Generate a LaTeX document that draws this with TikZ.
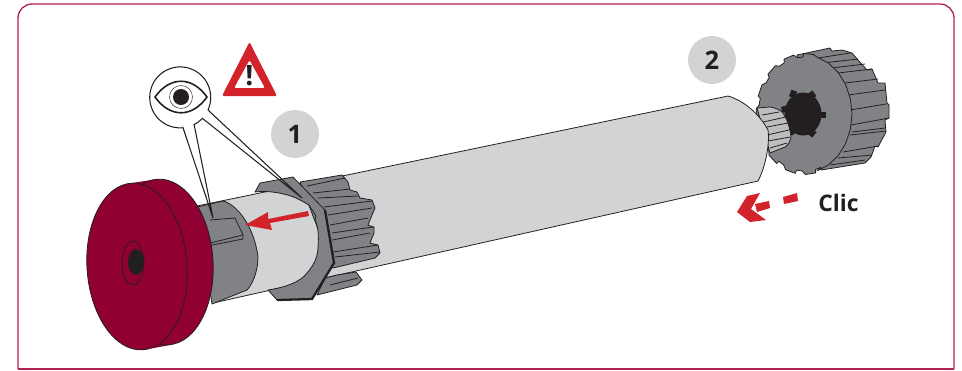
\documentclass[tikz,border=0pt]{standalone}
\usepackage{fontspec}
\setmainfont{Open Sans}
\usepackage{tikz}
\usetikzlibrary{positioning}
\definecolor{framered}{HTML}{B2224F}
\definecolor{discred}{HTML}{910033}
\definecolor{signred}{HTML}{D2232A}
\definecolor{tubegray}{HTML}{D1D3D4}
\definecolor{partgray}{HTML}{808285}
\definecolor{neckgray}{HTML}{BCBEC0}
\definecolor{inkblack}{HTML}{231F20}

\begin{document}
\begin{tikzpicture}[
  x=0.02cm, y=-0.02cm,
  outline/.style={draw=inkblack, line width=0.45pt, line join=round},
  part/.style={outline, fill=partgray},
  tube/.style={outline, fill=tubegray},
  disc/.style={outline, fill=discred},
  redmark/.style={fill=signred},
  badge/.style={circle, fill=tubegray, text=inkblack, minimum size=0.96cm, inner sep=0pt,
    font=\fontsize{14.5}{14.5}\selectfont\bfseries},
  lab/.style={text=inkblack, inner sep=0pt, font=\fontsize{13}{13}\selectfont\bfseries},
  pointer/.style={draw=inkblack, line width=0.6pt}
]
\useasboundingbox (0,0) rectangle (962,370);

% ---------- Frame ----------
\draw[framered, line width=0.75pt, rounded corners=2.8mm] (18,369) -- (18,4) -- (954,4) -- (954,369);
\draw[framered, line width=0.75pt] (18,369) -- (954,369);

% ---------- Right knob: ribs, face, bore ----------
\draw[part] (797,55) -- (830,48) -- (832,51) -- (842,50) -- (852,53) -- (858,60) -- (867,70) -- (872,69)
  -- (878,83) -- (885,83) -- (887,103) -- (889,105) -- (889,118) -- (885,120) -- (886,132) -- (878,147)
  -- (875,146) -- (871,157) -- (865,163) -- (821,170) -- cycle;
\foreach \xa/\ya/\xb/\yb in {818/58/850/53, 823/63/858/59, 832/68/865/64, 838/73/872/69, 845/83/878/79,
    848/95/885/90, 850/110/886/104, 851/125/889/118, 852/132/885/128, 850/135/886/131,
    843/152/878/146, 838/158/872/155, 830/165/865/160} {
  \draw[outline] (\xa,\ya) -- (\xb,\yb);
}
\draw[part] ({804.5+47.5*cos(-75)},{114-59*sin(-75)})
  \foreach \a in {-60,-45,...,60,75} { -- ({804.5+47.5*cos(\a)},{114-59*sin(\a)}) }
  \foreach \a in {75,99,...,267} {
    -- ({804.5+48.5*cos(\a+4)},{114-60.5*sin(\a+4)}) -- ({804.5+48.5*cos(\a+16)},{114-60.5*sin(\a+16)})
    -- ({804.5+46*cos(\a+17)},{114-57*sin(\a+17)}) -- ({804.5+46*cos(\a+24)},{114-57*sin(\a+24)})
  } -- cycle;
\fill[inkblack] (803,114) ellipse [x radius=18.5, y radius=21.5];
\foreach \x/\y/\r in {793/94/70, 812/95/-55, 822/115/0, 812/133/50, 785/109/15, 792/131/-50} {
  \fill[inkblack, shift={(\x,\y)}, rotate=\r] (-3.5,-3) rectangle (3.5,3);
}

% splined neck
\draw[outline, fill=neckgray] (757,108) -- (770,107) .. controls (776,108) and (780,110) .. (782,112)
  .. controls (787,118) and (790,128) .. (791,137) .. controls (790,142) and (788,145) .. (785,147) -- (770,153) -- cycle;
\foreach \xa/\ya/\xb/\yb in {762/115/779/112, 763/122/786/117, 767/127/788/123, 767/135/789/130, 768/141/790/137, 770/148/787/143} {
  \draw[outline] (\xa,\ya) -- (\xb,\yb);
}

% ---------- Tube ----------
\draw[tube] (197,206) -- (347,175) -- (728,96) .. controls (745,101) and (760,115) .. (768,130)
  .. controls (770,145) and (765,168) .. (758,181) -- (213,303) -- cycle;

% ---------- Left knob ribs ----------
\draw[part] (300,182) -- (342,175) -- (348,182) -- (350,190) -- (357,192) -- (360,198) -- (372,200) -- (375,208)
  -- (372,215) -- (368,225) -- (374,227) -- (374,233) -- (370,243) -- (378,245) -- (380,253) -- (375,258)
  -- (333,268) -- cycle;
\foreach \xa/\ya/\xb/\yb in {307/186/345/178, 313/193/350/189, 318/198/358/196, 324/207/372/201, 328/215/372/208,
    330/225/368/218, 332/233/373/227, 332/240/370/233, 333/252/378/245, 335/257/380/252} {
  \draw[outline] (\xa,\ya) -- (\xb,\yb);
}
\draw[part] (325,278) -- (337,275) -- (356,272) -- (362,280) -- (357,285) -- (317,295) -- cycle;
\draw[outline] (330,285) -- (358,278);

% ---------- Hex nut ----------
\draw[part] (255,192) -- (260,183) -- (293,177) -- (325,210) -- (334,263) -- (312,299) -- (277,300) -- (268,290)
  .. controls (287,287) and (300,282) .. (307,273) .. controls (315,264) and (318,255) .. (318,247)
  .. controls (319,235) and (318,226) .. (315,220) -- (316,216) -- (309,205) -- (302,201)
  .. controls (290,194) and (270,190) .. (255,192) -- cycle;
\draw[inkblack, line width=1.3pt] (325,210) -- (334,263) -- (312,299) -- (277,300);

% ---------- Sleeve and slot ----------
\draw[part] (197,207) -- (223,201) .. controls (236,204) and (254,225) .. (258,257)
  .. controls (258,272) and (252,285) .. (247,290) -- (212,304) -- cycle;
\draw[outline] (210,220) -- (235,218) -- (243,235) -- (210,243);
\draw[outline] (243,235) -- (243,239) -- (212,245);

% ---------- Red disc ----------
\fill[discred] (132,183) -- (158,179) -- (200,262) -- (170,345) -- (143,350) -- cycle;
\draw[disc, rotate around={4:(163,262)}] (163,262) ellipse [x radius=50, y radius=83];
\draw[disc, rotate around={4:(137,266.5)}] (137,266.5) ellipse [x radius=50, y radius=83.5];
\draw[outline] (133,263) ellipse [x radius=11, y radius=22];
\fill[inkblack] (136,262) ellipse [x radius=8, y radius=13];

% ---------- Arrow on the tube ----------
\fill[redmark] (245,225) -- (268,212) -- (268,219) -- (308,211) -- (309,216) -- (270,223) -- (272,230) -- cycle;

% ---------- Eye callout ----------
\coordinate (slottip) at (213,218);
\coordinate (nuttip) at (302,198);
\draw[pointer] (182.7,126.7) -- (slottip) -- (194,124);
\draw[pointer] (202,118) -- (nuttip) -- (208,110);
\draw[pointer] (208,110) arc [start angle=24.4, end angle=-274.3, radius=30.5];
\draw[pointer] (194,124.7) arc [start angle=63, end angle=43.6, radius=30.5];
\draw[inkblack, line width=0.9pt, fill=white] (155,97) .. controls (170,76) and (192,76) .. (207,97)
  .. controls (192,118) and (170,118) .. (155,97) -- cycle;
\draw[inkblack, line width=0.25pt] (181,97) circle [radius=11.5];
\fill[inkblack] (181,97) circle [radius=8];

% ---------- Warning sign ----------
\fill[signred, even odd rule, rounded corners=0.4mm] (249.5,42) -- (222,96) -- (277,96) -- cycle
  (249.5,60) -- (234,88) -- (265,88) -- cycle;
\node[text=inkblack, inner sep=0pt, font=\fontsize{16}{16}\selectfont\bfseries] (warnmark) at (249.5,76) {!};

% ---------- Step badges ----------
\node[badge] (stepone) at (295,134) {1};
\node[badge] (steptwo) at (712,60) {2};

% ---------- Clic ----------
\fill[redmark] (737,212) -- (747,196) -- (760,193) -- (751,209) -- (766,220) -- (750,222) -- cycle;
\fill[redmark] (755,204) -- (769,201) -- (770,208) -- (757,212) -- cycle;
\fill[redmark] (783,197) -- (797,193) -- (798,201) -- (784,204) -- cycle;
\node[lab] (clic) at (838.5,203) {Clic};
\end{tikzpicture}
\end{document}
